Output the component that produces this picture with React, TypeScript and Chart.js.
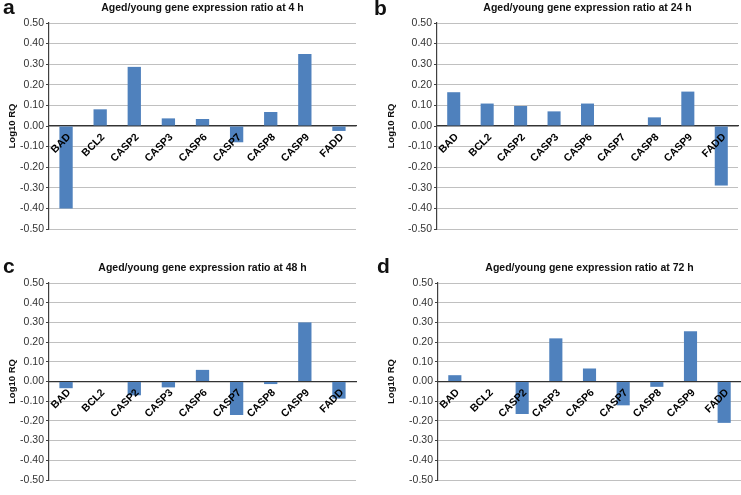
import React, { useEffect, useRef } from 'react';
import { Chart, registerables } from 'chart.js';

Chart.register(...registerables);

const genes = ['BAD', 'BCL2', 'CASP2', 'CASP3', 'CASP6', 'CASP7', 'CASP8', 'CASP9', 'FADD'];
const values4h = [-0.4, 0.081, 0.287, 0.037, 0.034, -0.079, 0.068, 0.35, -0.024];
const values24h = [0.164, 0.109, 0.097, 0.071, 0.109, 0, 0.042, 0.167, -0.289];
const values48h = [-0.034, 0, -0.07, -0.03, 0.059, -0.17, -0.013, 0.3, -0.087];
const values72h = [0.032, 0, -0.165, 0.219, 0.066, -0.121, -0.027, 0.255, -0.21];
const titles = [
  'Aged/young gene expression ratio at 4 h',
  'Aged/young gene expression ratio at 24 h',
  'Aged/young gene expression ratio at 48 h',
  'Aged/young gene expression ratio at 72 h',
];
const panelLetters = ['a', 'b', 'c', 'd'];
const yAxisTitle = 'Log10 RQ';
const yMin = -0.5;
const yMax = 0.5;
const yStep = 0.1;

const FONT = '"Liberation Sans", Arial, Helvetica, sans-serif';
const BAR_COLOR = '#4F81BD';

const panels = [
  { values: values4h, title: titles[0], letter: panelLetters[0], left: 0, top: 0, w: 370, h: 248,
    padding: { left: 3, right: 14, top: 0, bottom: 19 }, yWidth: 46, letterPos: { left: 3, top: -4 } },
  { values: values24h, title: titles[1], letter: panelLetters[1], left: 370, top: 0, w: 371, h: 248,
    padding: { left: 12, right: 3, top: 0, bottom: 19 }, yWidth: 55, letterPos: { left: 374, top: -3 } },
  { values: values48h, title: titles[2], letter: panelLetters[2], left: 0, top: 248, w: 370, h: 247,
    padding: { left: 3, right: 14, top: 12, bottom: 15 }, yWidth: 46, letterPos: { left: 3, top: 255 } },
  { values: values72h, title: titles[3], letter: panelLetters[3], left: 370, top: 248, w: 371, h: 247,
    padding: { left: 12, right: 0, top: 12, bottom: 15 }, yWidth: 56, letterPos: { left: 377, top: 255 } },
];

function fmt(v: number | string) {
  let n = Number(v);
  if (Math.abs(n) < 1e-9) n = 0;
  return n.toFixed(2);
}

function Panel({ cfg }: { cfg: any }) {
  const ref = useRef<HTMLCanvasElement>(null);
  useEffect(() => {
    const chart = new Chart(ref.current as HTMLCanvasElement, {
      type: 'bar',
      data: {
        labels: genes,
        datasets: [
          {
            data: cfg.values,
            backgroundColor: BAR_COLOR,
            borderWidth: 0,
            categoryPercentage: 1,
            barPercentage: 0.39,
          },
        ],
      },
      options: {
        responsive: false,
        animation: false,
        devicePixelRatio: 1,
        layout: { padding: cfg.padding },
        plugins: {
          legend: { display: false },
          tooltip: { enabled: false },
          title: {
            display: true,
            text: cfg.title,
            fullSize: false,
            color: '#111',
            font: { family: FONT, size: 10.5, weight: 'bold' },
            padding: { top: 1.5, bottom: 8.9 },
          },
        },
        scales: {
          x: {
            position: { y: 0 },
            offset: true,
            grid: { display: false, drawTicks: false },
            border: { display: true, color: '#333', width: 1.2 },
            ticks: {
              autoSkip: false,
              minRotation: 45,
              maxRotation: 45,
              padding: 5,
              labelOffset: 3,
              color: '#000',
              font: { family: FONT, size: 10.5, weight: 'bold' },
              z: 1,
            },
            afterFit: (s: any) => {
              s.height = 0;
            },
          },
          y: {
            min: yMin,
            max: yMax,
            ticks: {
              stepSize: yStep,
              callback: (v: any) => fmt(v),
              color: '#333',
              font: { family: FONT, size: 10.5 },
              padding: 2,
            },
            grid: { color: '#c0c0c0', tickColor: '#404040', tickLength: 3, drawTicks: true },
            border: { color: '#404040', width: 1.2 },
            title: {
              display: true,
              text: yAxisTitle,
              color: '#111',
              font: { family: FONT, size: 9.5, weight: 'bold' },
              padding: { top: 4, bottom: 0 },
            },
            afterFit: (s: any) => {
              s.width = cfg.yWidth;
            },
          },
        },
      } as any,
    });
    return () => chart.destroy();
  }, []);
  return (
    <canvas
      ref={ref}
      width={cfg.w}
      height={cfg.h}
      style={{ position: 'absolute', left: cfg.left, top: cfg.top, width: cfg.w, height: cfg.h }}
    />
  );
}

export default function App() {
  return (
    <div style={{ position: 'absolute', left: 0, top: 0, width: 741, height: 495, background: '#fff', overflow: 'hidden' }}>
      {panels.map((p, i) => (
        <Panel key={i} cfg={p} />
      ))}
      {panels.map((p, i) => (
        <div
          key={'l' + i}
          style={{
            position: 'absolute',
            left: p.letterPos.left,
            top: p.letterPos.top,
            fontFamily: FONT,
            fontWeight: 'bold',
            fontSize: 21,
            lineHeight: '21px',
            color: '#111',
          }}
        >
          {p.letter}
        </div>
      ))}
    </div>
  );
}
